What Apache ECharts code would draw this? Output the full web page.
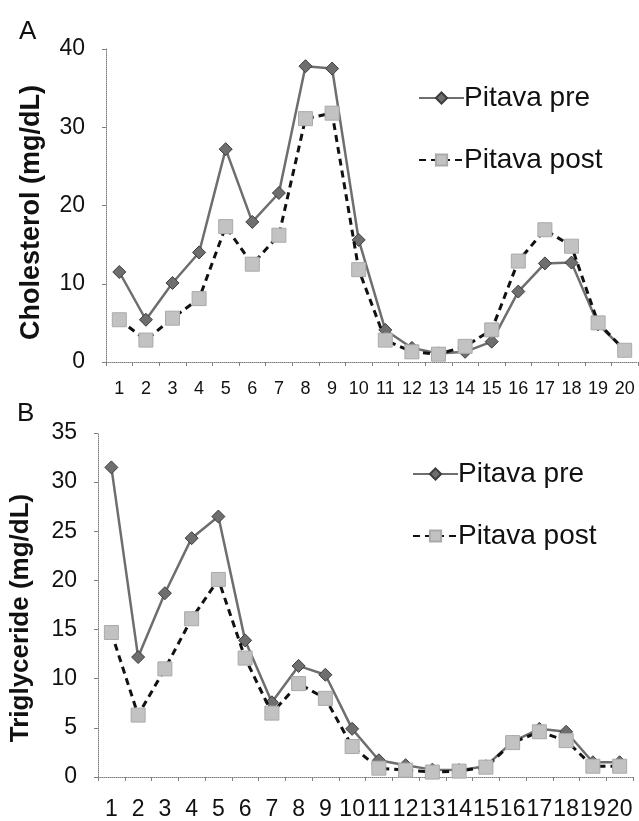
<!DOCTYPE html>
<html>
<head>
<meta charset="utf-8">
<script src="https://cdn.jsdelivr.net/npm/echarts@6/dist/echarts.min.js"></script>
<style>
  html, body { margin: 0; padding: 0; background: #fff; }
  #chart { width: 639px; height: 821px; }
</style>
</head>
<body>
<div id="chart"></div>
<script>
// categories 1..20 (shared by both panels)
var categories = ['1','2','3','4','5','6','7','8','9','10','11','12','13','14','15','16','17','18','19','20'];

// panel A: cholesterol (mg/dL)
var cholPre  = [11.5, 5.4, 10.1, 14.0, 27.2, 17.9, 21.6, 37.8, 37.5, 15.6, 4.1, 1.8, 1.1, 1.3, 2.6, 9.0, 12.6, 12.7, 4.8, 1.5];
var cholPost = [5.4, 2.8, 5.6, 8.1, 17.3, 12.5, 16.2, 31.1, 31.8, 11.8, 2.8, 1.3, 1.0, 2.0, 4.1, 12.9, 16.9, 14.8, 5.0, 1.5];

// panel B: triglyceride (mg/dL)
var trigPre  = [31.5, 12.2, 18.7, 24.3, 26.5, 13.9, 7.6, 11.3, 10.4, 4.9, 1.7, 1.2, 0.75, 0.7, 1.1, 3.6, 4.9, 4.6, 1.5, 1.5];
var trigPost = [14.7, 6.3, 11.0, 16.1, 20.1, 12.1, 6.5, 9.5, 8.0, 3.1, 0.9, 0.7, 0.5, 0.6, 1.0, 3.5, 4.6, 3.7, 1.1, 1.1];

var seriesNames = ['Pitava pre', 'Pitava post'];

var font = 'Liberation Sans, Arial, sans-serif';
var axisColor = '#808080';

var chart = echarts.init(document.getElementById('chart'));

function xAxisOf(gridIndex, labelSize, labelMargin) {
    return {
        type: 'category',
        gridIndex: gridIndex,
        data: categories,
        boundaryGap: true,
        axisLine: { lineStyle: { color: axisColor, width: 1, type: 'dotted' } },
        axisTick: { show: true, length: 4, lineStyle: { color: axisColor } },
        axisLabel: { interval: 0, fontSize: labelSize, color: '#111', fontFamily: font, margin: labelMargin },
        splitLine: { show: false }
    };
}

function yAxisOf(gridIndex, max, interval, name, nameSize, nameGap, namePad) {
    return {
        type: 'value',
        gridIndex: gridIndex,
        min: 0,
        max: max,
        interval: interval,
        name: name,
        nameLocation: 'middle',
        nameRotate: 90,
        nameGap: nameGap,
        nameTextStyle: { fontSize: nameSize, fontWeight: 'bold', color: '#111', fontFamily: font, padding: [0, namePad, 0, 0] },
        axisLine: { show: true, lineStyle: { color: axisColor, width: 1, type: 'dotted' } },
        axisTick: { show: true, length: 4, lineStyle: { color: axisColor } },
        axisLabel: { fontSize: 23, color: '#111', fontFamily: font, margin: 21 },
        splitLine: { show: false }
    };
}

function preSeries(data, idx) {
    return {
        name: seriesNames[0],
        type: 'line',
        xAxisIndex: idx,
        yAxisIndex: idx,
        data: data,
        symbol: 'diamond',
        symbolSize: 13,
        lineStyle: { color: '#6e6e6e', width: 2.5 },
        itemStyle: { color: '#6e6e6e', borderColor: '#3c3c3c', borderWidth: 1 },
        z: 3
    };
}

function postSeries(data, idx) {
    return {
        name: seriesNames[1],
        type: 'line',
        xAxisIndex: idx,
        yAxisIndex: idx,
        data: data,
        symbol: 'rect',
        symbolSize: 14,
        lineStyle: { color: '#111', width: 3, type: [7, 5] },
        itemStyle: { color: '#c2c2c2', borderColor: '#aaa', borderWidth: 1 },
        z: 4
    };
}

function legendOf(left, top) {
    return {
        orient: 'vertical',
        left: left,
        top: top,
        itemWidth: 45,
        itemHeight: 14,
        itemGap: 34,
        data: seriesNames.map(function (n) { return { name: n }; }),
        textStyle: { fontSize: 28, color: '#111', fontFamily: font, padding: [0, 0, 0, -5] },
        selectedMode: false
    };
}

var option = {
    backgroundColor: '#fff',
    animation: false,
    title: [
        { text: 'A', left: 14, top: 14, textStyle: { fontSize: 26, fontWeight: 'normal', color: '#111', fontFamily: font } },
        { text: 'B', left: 12, top: 396, textStyle: { fontSize: 26, fontWeight: 'normal', color: '#111', fontFamily: font } }
    ],
    legend: [
        legendOf(413, 79),
        legendOf(407, 455)
    ],
    grid: [
        { left: 106, top: 49, width: 532, height: 313 },
        { left: 97, top: 433, width: 536, height: 344 }
    ],
    xAxis: [
        xAxisOf(0, 18, 18),
        xAxisOf(1, 23, 21)
    ],
    yAxis: [
        yAxisOf(0, 40, 10, 'Cholesterol (mg/dL)', 27, 61, 14),
        yAxisOf(1, 35, 5, 'Triglyceride (mg/dL)', 26, 64, 26)
    ],
    series: [
        preSeries(cholPre, 0),
        postSeries(cholPost, 0),
        preSeries(trigPre, 1),
        postSeries(trigPost, 1)
    ]
};

chart.setOption(option);
</script>
</body>
</html>
